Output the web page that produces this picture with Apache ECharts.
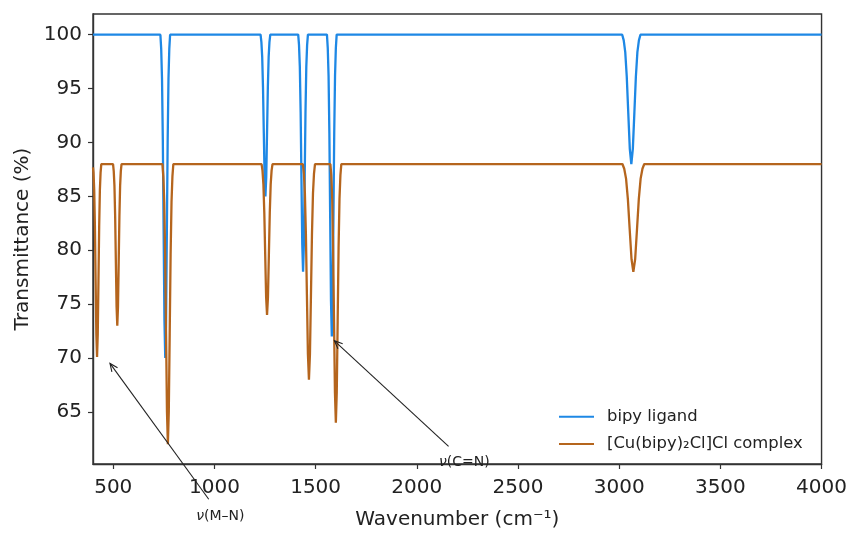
<!DOCTYPE html>
<html><head><meta charset="utf-8">
<script src="https://cdn.jsdelivr.net/npm/echarts@6/dist/echarts.min.js"></script>
<style>html,body{margin:0;padding:0;background:#fff}#c{width:850px;height:535px}</style>
</head><body><div id="c"></div>
<script>
// ---- data ----
const xTicks = [500, 1000, 1500, 2000, 2500, 3000, 3500, 4000];
const yTicks = [65, 70, 75, 80, 85, 90, 95, 100];
const seriesNames = ['bipy ligand', '[Cu(bipy)₂Cl]Cl complex'];

// [wavenumber, transmittance]
const ligandPoints = [
  [400, 100], [733, 100],
  [737, 98.68], [741, 95.94], [745, 90.26], [749, 81.80], [753, 73.53], [757, 70.00],
  [761, 73.53], [765, 81.80], [769, 90.26], [773, 95.94], [777, 98.68], [781, 100],
  [1228, 100],
  [1232, 99.34], [1236, 97.97], [1240, 95.13], [1244, 90.90], [1248, 86.76], [1252, 85.00],
  [1256, 86.76], [1260, 90.90], [1264, 95.13], [1268, 97.97], [1272, 99.34], [1276, 100],
  [1414, 100],
  [1418, 99.03], [1422, 97.02], [1426, 92.86], [1430, 86.66], [1434, 80.59], [1438, 78.00],
  [1442, 80.59], [1446, 86.66], [1450, 92.86], [1454, 97.02], [1458, 99.03], [1462, 100],
  [1556, 100],
  [1560, 98.77], [1564, 96.21], [1568, 90.91], [1572, 83.02], [1576, 75.29], [1580, 72.00],
  [1584, 75.29], [1588, 83.02], [1592, 90.91], [1596, 96.21], [1600, 98.77], [1604, 100],
  [3015, 100],
  [3022.5, 99.47], [3030, 98.38], [3037.5, 96.10], [3045, 92.72], [3052.5, 89.41], [3060, 88.00],
  [3067.5, 89.41], [3075, 92.72], [3082.5, 96.10], [3090, 98.38], [3097.5, 99.47], [3105, 100],
  [4000, 100]
];

const complexPoints = [
  [400, 87.70], [402.5, 87.21], [406, 85.58], [409.5, 82.19], [413, 77.14], [416.5, 72.20], [420, 70.10],
  [423.5, 72.20], [427, 77.14], [430.5, 82.19], [434, 85.58], [437.5, 87.21], [441, 88],
  [499, 88],
  [502.5, 87.34], [506, 85.97], [509.5, 83.13], [513, 78.90], [516.5, 74.76], [520, 73.00],
  [523.5, 74.76], [527, 78.90], [530.5, 83.13], [534, 85.97], [537.5, 87.34], [541, 88],
  [743, 88],
  [747.5, 86.86], [752, 84.48], [756.5, 79.56], [761, 72.23], [765.5, 65.05], [770, 62.00],
  [774.5, 65.05], [779, 72.23], [783.5, 79.56], [788, 84.48], [792.5, 86.86], [797, 88],
  [1233, 88],
  [1237.5, 87.39], [1242, 86.11], [1246.5, 83.45], [1251, 79.51], [1255.5, 75.64], [1260, 74.00],
  [1264.5, 75.64], [1269, 79.51], [1273.5, 83.45], [1278, 86.11], [1282.5, 87.39], [1287, 88],
  [1437, 88],
  [1442, 87.12], [1447, 85.29], [1452, 81.51], [1457, 75.87], [1462, 70.35], [1467, 68.00],
  [1472, 70.35], [1477, 75.87], [1482, 81.51], [1487, 85.29], [1492, 87.12], [1497, 88],
  [1573, 88],
  [1577.5, 86.95], [1582, 84.75], [1586.5, 80.21], [1591, 73.44], [1595.5, 66.82], [1600, 64.00],
  [1604.5, 66.82], [1609, 73.44], [1613.5, 80.21], [1618, 84.75], [1622.5, 86.95], [1627, 88],
  [3016, 88],
  [3025, 87.56], [3034, 86.65], [3043, 84.75], [3052, 81.93], [3061, 79.17], [3070, 78.00],
  [3079, 79.17], [3088, 81.93], [3097, 84.75], [3106, 86.65], [3115, 87.56], [3124, 88],
  [4000, 88]
];

// annotations in data coordinates
const annMN = { text: '(M–N)', head: [484, 69.5], tail: [972, 56.9], label: [1029, 55.3] };
const annCN = { text: '(C=N)', head: [1593, 71.6], tail: [2157, 61.8], label: [2235, 60.3] };

// ---- chart ----
const FONT = 'DejaVu Sans';
const chart = echarts.init(document.getElementById('c'), null, { renderer: 'canvas' });
const option = {
  animation: false,
  backgroundColor: '#ffffff',
  grid: { left: 93, right: 27, top: 14, bottom: 65, show: true, borderColor: '#333', borderWidth: 1.4, backgroundColor: 'transparent' },
  xAxis: {
    type: 'value', min: 400, max: 4000,
    name: 'Wavenumber (cm⁻¹)', nameLocation: 'middle', nameGap: 46,
    nameTextStyle: { fontFamily: FONT, fontSize: 20, color: '#222' },
    axisLine: { show: true, lineStyle: { color: '#333', width: 1.4 } },
    axisTick: { show: true, length: 5, lineStyle: { color: '#333', width: 1.2 }, customValues: xTicks },
    axisLabel: { fontFamily: FONT, fontSize: 20, color: '#222', margin: 14, customValues: xTicks, formatter: v => String(v) },
    splitLine: { show: false }
  },
  yAxis: {
    type: 'value', min: 60.17, max: 101.92,
    name: 'Transmittance (%)', nameLocation: 'middle', nameGap: 58,
    nameTextStyle: { fontFamily: FONT, fontSize: 20, color: '#222' },
    axisLine: { show: true, lineStyle: { color: '#333', width: 1.4 } },
    axisTick: { show: true, length: 5, lineStyle: { color: '#333', width: 1.2 }, customValues: yTicks },
    axisLabel: { fontFamily: FONT, fontSize: 20, color: '#222', margin: 11, customValues: yTicks, formatter: v => String(v) },
    splitLine: { show: false }
  },
  legend: {
    orient: 'vertical', left: 559, top: 406.7, padding: 0,
    icon: 'rect', itemWidth: 35, itemHeight: 2, itemGap: 7.3,
    textStyle: { fontFamily: FONT, fontSize: 16.4, color: '#222', lineHeight: 20, padding: [0, 0, 0, 8] },
    data: seriesNames
  },
  series: [
    { name: seriesNames[0], type: 'line', data: ligandPoints, showSymbol: false, symbol: 'none', smooth: false,
      lineStyle: { color: '#1E88E5', width: 2.3 }, itemStyle: { color: '#1E88E5' }, z: 2 },
    { name: seriesNames[1], type: 'line', data: complexPoints, showSymbol: false, symbol: 'none', smooth: false,
      lineStyle: { color: '#B5651D', width: 2.3 }, itemStyle: { color: '#B5651D' }, z: 3 }
  ]
};
chart.setOption(option);

function arrowElements(a) {
  const h = chart.convertToPixel({ gridIndex: 0 }, a.head);
  const t = chart.convertToPixel({ gridIndex: 0 }, a.tail);
  const l = chart.convertToPixel({ gridIndex: 0 }, a.label);
  const dx = h[0] - t[0], dy = h[1] - t[1];
  const len = Math.sqrt(dx * dx + dy * dy);
  const ux = dx / len, uy = dy / len, nx = -uy, ny = ux;
  const L = 8, W = 3.5;
  return [
    { type: 'line', z: 100, shape: { x1: t[0], y1: t[1], x2: h[0], y2: h[1] }, style: { stroke: '#222', lineWidth: 1.1 } },
    { type: 'polyline', z: 100, shape: { points: [[h[0] - ux * L + nx * W, h[1] - uy * L + ny * W], [h[0], h[1]], [h[0] - ux * L - nx * W, h[1] - uy * L - ny * W]] },
      style: { stroke: '#222', lineWidth: 1.1, fill: null } },
    { type: 'text', z: 100, x: l[0], y: l[1],
      style: { text: '{nu|ν}{t|' + a.text + '}', align: 'center', verticalAlign: 'middle',
        rich: { nu: { fontFamily: FONT, fontSize: 14, fontStyle: 'italic', fill: '#222' }, t: { fontFamily: FONT, fontSize: 14, fill: '#222' } } } }
  ];
}
chart.setOption({ graphic: { elements: [].concat(arrowElements(annMN), arrowElements(annCN)) } });
</script>
</body></html>
